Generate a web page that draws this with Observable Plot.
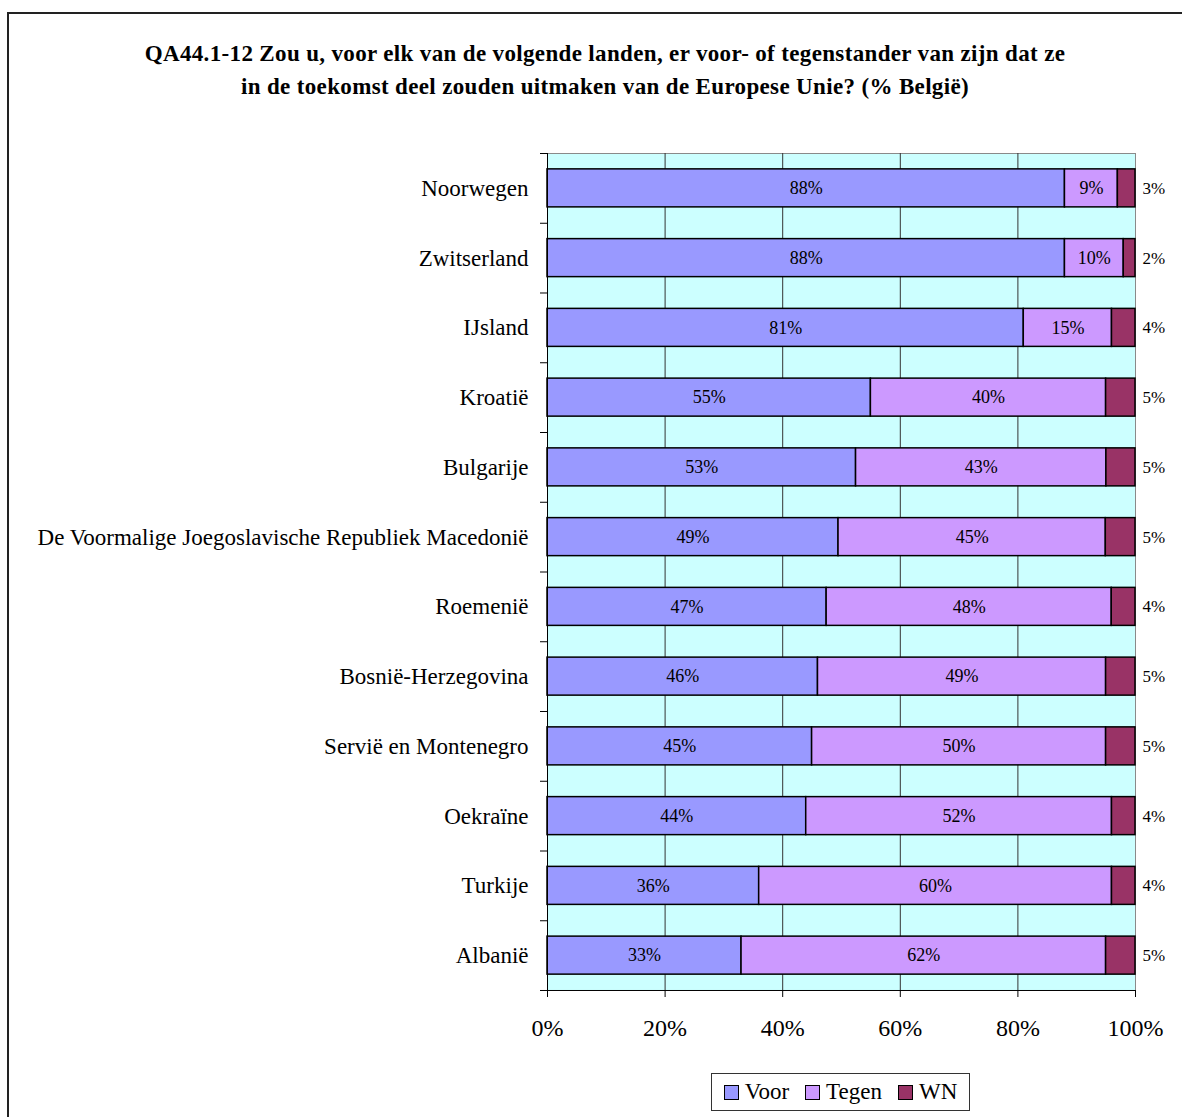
<!DOCTYPE html>
<html><head><meta charset="utf-8">
<script src="https://cdn.jsdelivr.net/npm/d3@7"></script>
<script src="https://cdn.jsdelivr.net/npm/@observablehq/plot@0.6"></script>
<style>
body{margin:0;background:#fff;font-family:"Liberation Serif",serif;color:#000;}
#wrap{position:relative;width:1182px;height:1117px;overflow:hidden;}
#frame{position:absolute;left:7px;top:12px;width:1300px;height:1300px;border-left:2px solid #222;border-top:2px solid #222;}
#title{position:absolute;left:0;top:37px;width:1210px;text-align:center;font-weight:bold;font-size:23px;letter-spacing:0.35px;line-height:33px;}
#chart{position:absolute;left:0;top:120px;width:1182px;height:940px;}
#chart svg{width:1182px;height:940px;max-width:none;display:block;overflow:visible;}
#legend{position:absolute;left:711px;top:1073px;width:257px;height:36px;border:1px solid #333;display:flex;align-items:center;justify-content:center;gap:16px;font-size:23px;background:#fff;}
#legend .it{display:flex;align-items:center;gap:6px;}
#legend .sw{width:13px;height:13px;border:1px solid #000;}
</style></head><body>
<div id="wrap">
<div id="frame"></div>
<div id="title"></div>
<div id="chart"></div>
<div id="legend"></div>
</div>
<script>
const titleLines = ["QA44.1-12 Zou u, voor elk van de volgende landen, er voor- of tegenstander van zijn dat ze",
                    "in de toekomst deel zouden uitmaken van de Europese Unie? (% België)"];
const countries = ["Noorwegen","Zwitserland","IJsland","Kroatië","Bulgarije",
  "De Voormalige Joegoslavische Republiek Macedonië","Roemenië","Bosnië-Herzegovina",
  "Servië en Montenegro","Oekraïne","Turkije","Albanië"];
const voor  = [88,88,81,55,53,49,47,46,45,44,36,33];
const tegen = [9,10,15,40,43,45,48,49,50,52,60,62];
const wn    = [3,2,4,5,5,5,4,5,5,4,4,5];
const seriesNames = ["Voor","Tegen","WN"];
const seriesColors = ["#9999FF","#CC99FF","#993366"];
const xTicks = [0,0.2,0.4,0.6,0.8,1];

document.getElementById("title").innerHTML = titleLines.join("<br>");

const seriesValues = [voor, tegen, wn];
const data = [];
countries.forEach((c,i) => seriesNames.forEach((s,j) => data.push({country:c, series:s, value:seriesValues[j][i]})));

const W = 1182, H = 940, mT = 33, mB = 70, mL = 547, mR = 47;
const step = (H - mT - mB) / countries.length;

const chart = Plot.plot({
  width: W, height: H, marginTop: mT, marginBottom: mB, marginLeft: mL, marginRight: mR,
  style: {fontFamily: "Liberation Serif", fontSize: "18px", color: "#000", background: "transparent"},
  x: {domain: [0, 1], label: null},
  y: {domain: countries, paddingInner: 0.455, paddingOuter: 0.2275, round: false, label: null},
  color: {domain: seriesNames, range: seriesColors},
  marks: [
    Plot.frame({fill: "#CCFFFF", stroke: "#8a8a8a"}),
    Plot.ruleX(xTicks.slice(1, -1), {stroke: "#333"}),
    Plot.barX(data, Plot.stackX({x: "value", y: "country", fill: "series", offset: "normalize", order: seriesNames, stroke: "#000", strokeWidth: 1.5})),
    Plot.text(data, Plot.stackX({x: "value", y: "country", z: "series", offset: "normalize", order: seriesNames,
      text: d => d.series === "WN" ? null : `${d.value}%`, fontSize: 18, fill: "#000"})),
    Plot.text(data, Plot.stackX2({x: "value", y: "country", z: "series", offset: "normalize", order: seriesNames,
      text: d => d.series === "WN" ? `${d.value}%` : null, textAnchor: "start", dx: 7, fontSize: 17, fill: "#000"})),
    Plot.ruleY(countries, {y: d => d, x1: 0, x2: 0, insetLeft: -7, dy: -step / 2, stroke: "#000"}),
    Plot.ruleX([0], {stroke: "#000"}),
    Plot.ruleY([countries[countries.length - 1]], {y: d => d, x1: 0, x2: 1, insetLeft: -7, dy: step / 2, stroke: "#000"}),
    Plot.axisX({ticks: xTicks, tickFormat: ".0%", tickSize: 7, tickPadding: 21, fontSize: 24, label: null}),
    Plot.axisY({tickSize: 0, tickPadding: 19, fontSize: 23, label: null})
  ]
});
document.getElementById("chart").appendChild(chart);

const legend = document.getElementById("legend");
seriesNames.forEach((s, i) => {
  const it = document.createElement("div"); it.className = "it";
  const sw = document.createElement("div"); sw.className = "sw"; sw.style.background = seriesColors[i];
  const tx = document.createElement("span"); tx.textContent = s;
  it.appendChild(sw); it.appendChild(tx); legend.appendChild(it);
});
</script>
</body></html>
